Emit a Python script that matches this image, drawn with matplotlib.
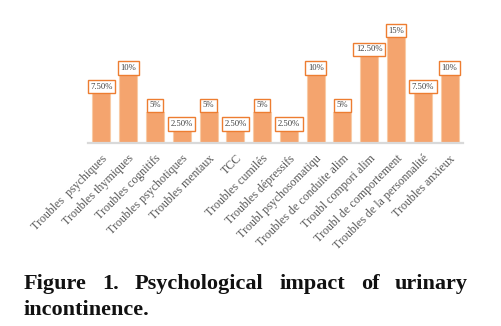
import matplotlib
matplotlib.use("Agg")
import matplotlib.pyplot as plt

categories = [
    "Troubles  psychiques", "Troubles thymiques", "Troubles cognitifs",
    "Troubles psychotiques", "Troubles mentaux", "TCC", "Troubles cumilés",
    "Troubles dépressifs", "Troubl psychosomatiqu", "Troubles de conduite alim",
    "Troubl compori alim", "Troubl de comportement", "Troubles de la personnalité",
    "Troubles anxieux",
]
values = [7.5, 10, 5, 2.5, 5, 2.5, 5, 2.5, 10, 5, 12.5, 15, 7.5, 10]
value_labels = ["7.50%", "10%", "5%", "2.50%", "5%", "2.50%", "5%", "2.50%",
                "10%", "5%", "12.50%", "15%", "7.50%", "10%"]

BAR = "#F4A46E"
BAR_EDGE = "#F8CBA6"
BOX_EDGE = "#ED7D31"
TEXT = "#595959"
SERIF = ["Liberation Serif", "DejaVu Serif"]

W, H = 501, 326
fig = plt.figure(figsize=(W / 100, H / 100), dpi=100)
ax = fig.add_axes([88 / W, 1 - 143 / H, (463 - 88) / W, 143 / H])

x = list(range(len(values)))
ax.bar(x, values, width=0.67, color=BAR, edgecolor=BAR_EDGE, linewidth=0.8)
ax.set_xlim(-0.5, len(values) - 0.5)
ax.set_ylim(0.85, 20)

for xi, v, lab in zip(x, values, value_labels):
    ax.annotate(lab, (xi, v), xytext=(0, 4.8), textcoords="offset points",
                ha="center", va="center", fontsize=6.2, color="#404040",
                family=SERIF,
                bbox=dict(boxstyle="square,pad=0.3", fc="white", ec=BOX_EDGE, lw=1.0))

for side in ["top", "right", "left"]:
    ax.spines[side].set_visible(False)
ax.spines["bottom"].set_color("#D9D9D9")
ax.spines["bottom"].set_linewidth(1.6)
ax.set_yticks([])
ax.set_xticks(x)
ax.set_xticklabels(categories, rotation=45, ha="right", rotation_mode="anchor",
                   fontsize=8.6, color=TEXT, family=SERIF)
ax.tick_params(axis="x", length=0, pad=7)

# caption, first line justified between the margins
line1 = ["Figure", "1.", "Psychological", "impact", "of", "urinary"]
left, right = 24 / W, 468 / W
cap_kw = dict(fontsize=16, fontweight="bold", family=SERIF, color="#111111", va="baseline")
texts = [fig.text(0, 1 - 289 / H, w, **cap_kw) for w in line1]
fig.canvas.draw()
r = fig.canvas.get_renderer()
widths = [t.get_window_extent(r).width / W for t in texts]
gap = (right - left - sum(widths)) / (len(widths) - 1)
pos = left
for t, wd in zip(texts, widths):
    t.set_x(pos)
    pos += wd + gap
fig.text(left, 1 - 315 / H, "incontinence.", **cap_kw)

fig.savefig("out.png", dpi=100)
